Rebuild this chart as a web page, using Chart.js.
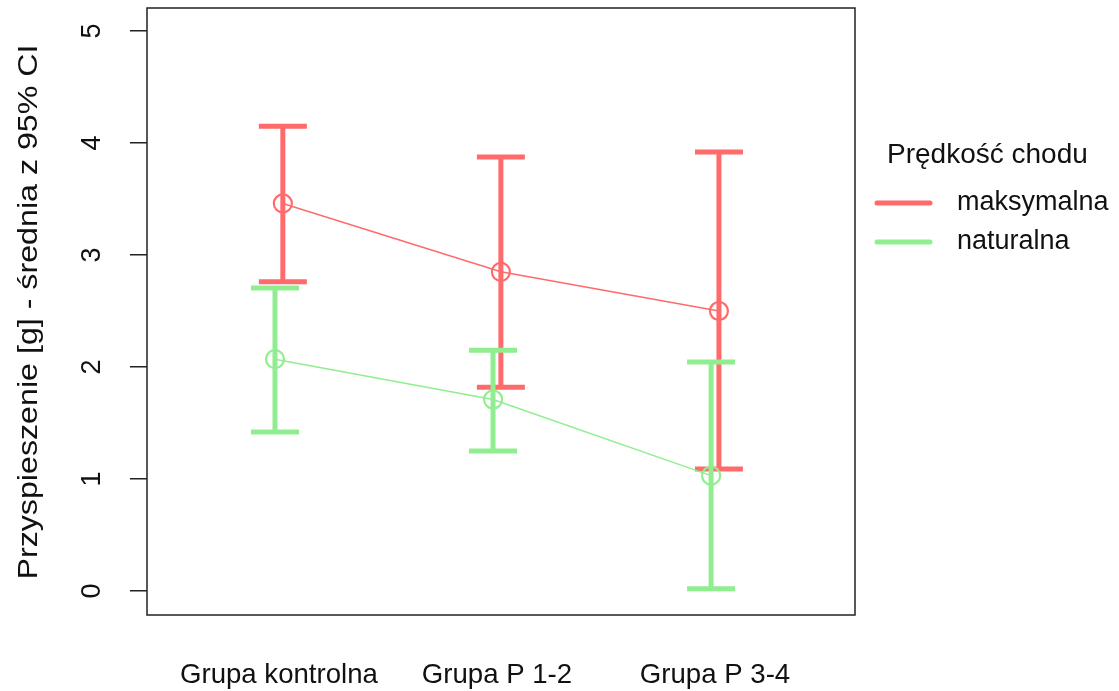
<!DOCTYPE html>
<html><head><meta charset="utf-8">
<script src="https://cdn.jsdelivr.net/npm/chart.js@4/dist/chart.umd.min.js"></script>
<style>html,body{margin:0;padding:0;background:#fff;} canvas{display:block}</style>
</head><body>
<canvas id="c" width="1119" height="691"></canvas>
<script>
const categories = ['Grupa kontrolna', 'Grupa P 1-2', 'Grupa P 3-4'];
const yTickValues = [0, 1, 2, 3, 4, 5];
const seriesNames = ['maksymalna', 'naturalna'];
const maksMean = [3.46, 2.85, 2.50];
const maksLow  = [2.76, 1.82, 1.09];
const maksHigh = [4.15, 3.875, 3.92];
const natMean  = [2.07, 1.71, 1.03];
const natLow   = [1.42, 1.25, 0.02];
const natHigh  = [2.705, 2.15, 2.045];
const legendTitle = 'Prędkość chodu';
const yTitle = 'Przyspieszenie [g] - średnia z 95% CI';

const RED = '#FF6A6A', GREEN = '#90EE90';
const DODGE = 0.018;
const FAMILY = '"Liberation Sans", Arial, sans-serif';
const FSIZE = 27;

function meanPoints(arr, off) { return arr.map((v, i) => ({ x: i + 1 + off, y: v })); }
function barPoints(lo, hi, off) {
  const out = [];
  lo.forEach((v, i) => {
    out.push({ x: i + 1 + off, y: v });
    out.push({ x: i + 1 + off, y: hi[i] });
    out.push({ x: i + 1 + off, y: null });
  });
  return out;
}

const overlay = {
  id: 'overlay',
  afterDraw(chart) {
    const ctx = chart.ctx, a = chart.chartArea, ys = chart.scales.y;
    ctx.save();
    ctx.strokeStyle = '#222'; ctx.lineWidth = 1.5;
    ctx.strokeRect(a.left, a.top, a.right - a.left, a.bottom - a.top);
    ctx.fillStyle = '#111';
    ctx.font = FSIZE + 'px ' + FAMILY;
    ctx.textAlign = 'center'; ctx.textBaseline = 'middle';
    yTickValues.forEach(v => {
      const py = ys.getPixelForValue(v);
      ctx.save(); ctx.translate(93, py); ctx.rotate(-Math.PI / 2);
      ctx.fillText(String(v), 0, 0); ctx.restore();
    });
    ctx.save(); ctx.font = '28px ' + FAMILY;
    ctx.translate(29, 312); ctx.rotate(-Math.PI / 2); ctx.scale(1.15, 1);
    ctx.fillText(yTitle, 0, 0); ctx.restore();
    ctx.textAlign = 'left';
    ctx.save(); ctx.font = '28px ' + FAMILY;
    ctx.fillText(legendTitle, 887, 155); ctx.restore();
    const cols = [RED, GREEN], ly = [203, 242];
    seriesNames.forEach((n, i) => {
      ctx.strokeStyle = cols[i]; ctx.lineWidth = 5; ctx.lineCap = 'round';
      ctx.beginPath(); ctx.moveTo(877, ly[i]); ctx.lineTo(930, ly[i]); ctx.stroke();
      ctx.fillText(n, 957, ly[i]);
    });
    ctx.restore();
  }
};

new Chart(document.getElementById('c'), {
  type: 'scatter',
  data: {
    datasets: [
      { label: seriesNames[0] + ' CI', data: barPoints(maksLow, maksHigh, DODGE), showLine: true, spanGaps: false,
        borderColor: RED, borderWidth: 5, pointStyle: 'line', pointRadius: 24, pointBorderWidth: 5,
        pointBorderColor: RED, order: 4 },
      { label: seriesNames[1] + ' CI', data: barPoints(natLow, natHigh, -DODGE), showLine: true, spanGaps: false,
        borderColor: GREEN, borderWidth: 5, pointStyle: 'line', pointRadius: 24, pointBorderWidth: 5,
        pointBorderColor: GREEN, order: 3 },
      { label: seriesNames[0], data: meanPoints(maksMean, DODGE), showLine: true,
        borderColor: RED, borderWidth: 1.5, pointStyle: 'circle', pointRadius: 9, pointBorderWidth: 2.2,
        pointBorderColor: RED, pointBackgroundColor: 'rgba(0,0,0,0)', order: 2 },
      { label: seriesNames[1], data: meanPoints(natMean, -DODGE), showLine: true,
        borderColor: GREEN, borderWidth: 1.5, pointStyle: 'circle', pointRadius: 9, pointBorderWidth: 2.2,
        pointBorderColor: GREEN, pointBackgroundColor: 'rgba(0,0,0,0)', order: 1 }
    ]
  },
  options: {
    responsive: false,
    animation: false,
    layout: { autoPadding: false, padding: { top: 8, right: 264, left: 0, bottom: 0 } },
    plugins: { legend: { display: false }, tooltip: { enabled: false } },
    scales: {
      x: {
        type: 'linear', min: 0.395, max: 3.642,
        afterBuildTicks: s => { s.ticks = categories.map((c, i) => ({ value: i + 1 })); },
        ticks: { callback: v => categories[v - 1], font: { size: 27.6, family: FAMILY }, color: '#111',
                 padding: 44, autoSkip: false, maxRotation: 0, minRotation: 0 },
        grid: { display: false, drawTicks: false },
        border: { display: false },
        afterFit: s => { s.height = 76; }
      },
      y: {
        type: 'linear', min: -0.214, max: 5.205,
        afterBuildTicks: s => { s.ticks = yTickValues.map(v => ({ value: v })); },
        ticks: { display: false },
        grid: { drawOnChartArea: false, drawTicks: true, tickLength: 17, color: '#222', lineWidth: 1.5 },
        border: { display: false },
        afterFit: s => { s.width = 147; }
      }
    }
  },
  plugins: [overlay]
});
</script>
</body></html>
